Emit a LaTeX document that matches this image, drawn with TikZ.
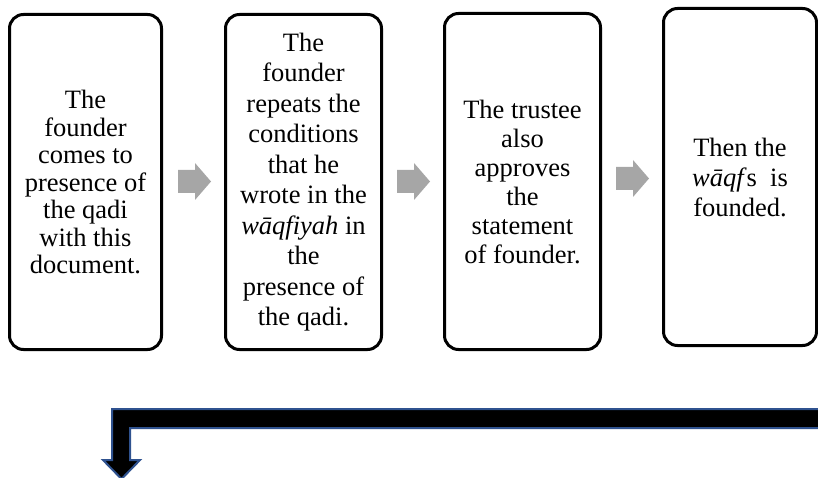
\documentclass[tikz,border=0pt]{standalone}
\usepackage{fontspec}
\setmainfont{Liberation Serif}
\definecolor{arrowgray}{RGB}{166,166,166}
\definecolor{outlineblue}{RGB}{47,82,143}
\tikzset{
  stepbox/.style={draw=black, line width=3pt, rounded corners=14pt, fill=white,
    align=center, inner sep=0pt},
  grayarrow/.pic={\fill[arrowgray] (0,-11.5) -- (17,-11.5) -- (17,-18.5) -- (33,0) -- (17,18.5) -- (17,11.5) -- (0,11.5) -- cycle;},
}
\newcommand{\boxfont}[1]{\fontsize{26.5}{#1}\selectfont}
\begin{document}
\begin{tikzpicture}[x=1pt,y=-1pt]
\useasboundingbox (0,0) rectangle (818,478);
\clip (0,0) rectangle (818,478);
\node[stepbox, minimum width=152pt, minimum height=335pt, font=\boxfont{27.5}] (b1) at (85.5,182)
  {The\\founder\\comes to\\presence of\\the qadi\\with this\\document.};
\node[stepbox, minimum width=156pt, minimum height=335pt, font=\boxfont{30.5}] (b2) at (303.5,182)
  {The\\founder\\repeats the\\conditions\\that he\\wrote in the\\\textit{wāqfiyah} in\\the\\presence of\\the qadi.};
\node[stepbox, minimum width=156pt, minimum height=336pt, font=\boxfont{29}] (b3) at (522.5,181.5)
  {The trustee\\also\\approves\\the\\statement\\of founder.};
\node[stepbox, minimum width=153pt, minimum height=337pt, font=\boxfont{30}] (b4) at (740,177)
  {Then the\\\textit{wāqf}s\ \ is\\founded.};
\pic at (178,181.5) {grayarrow};
\pic at (397,181.5) {grayarrow};
\pic at (616,178.5) {grayarrow};
\coordinate (barR1) at (825,409);
\coordinate (barR2) at (825,428);
\filldraw[fill=black, draw=outlineblue, line width=2pt, line join=miter]
  (barR1) -- (112,409) -- (112,460) -- (103,460) -- (121.5,479) -- (140,460) -- (130,460) -- (130,428) -- (barR2) -- cycle;
\end{tikzpicture}
\end{document}
